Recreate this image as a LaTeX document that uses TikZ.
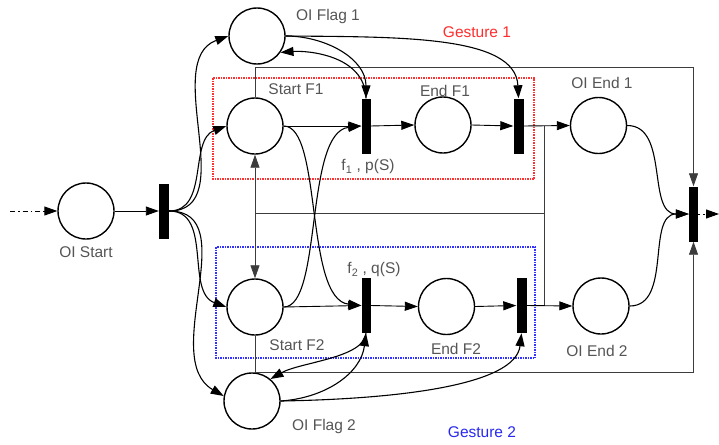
\documentclass[tikz,border=0pt]{standalone}
\usepackage{fontspec}
\setmainfont{Liberation Sans}
\usetikzlibrary{arrows.meta}
\definecolor{txt}{RGB}{85,85,85}
\definecolor{gred}{RGB}{255,45,45}
\definecolor{gblue}{RGB}{40,40,240}
\definecolor{gboxblue}{RGB}{50,50,255}
\definecolor{gboxred}{RGB}{255,50,50}
\definecolor{wirec}{RGB}{60,60,60}
\begin{document}
\begin{tikzpicture}[x=1pt,y=-1pt,
  place/.style={circle,draw=black,line width=1.4pt,fill=white,minimum size=56pt,inner sep=0pt},
  trans/.style={rectangle,fill=black,minimum width=9pt,minimum height=55pt,inner sep=0pt},
  lbl/.style={font=\fontsize{15.5}{18}\selectfont,text=txt,inner sep=0pt,anchor=base},
  tip/.style={-{Triangle[length=13pt,width=9pt]}},
  arc/.style={line width=1.1pt,draw=black,tip},
  flow/.style={line width=0.9pt,draw=black,tip},
  wire/.style={line width=0.8pt,draw=wirec},
  gbox/.style={line width=1.1pt,dash pattern=on 1.5pt off 1pt}
]
\useasboundingbox (0,0) rectangle (719,444);

% gesture boxes
\draw[gbox,gboxred] (213,78) rectangle (534,179);
\draw[gbox,gboxblue] (216,247) rectangle (535,358);

% places and transitions
\node[place] (start) at (86,211) {};
\node[trans,minimum width=10pt] (fork) at (164,211) {};
\node[place] (flag1) at (257,36) {};
\node[place] (sf1) at (255,126) {};
\node[trans] (t1) at (366,126) {};
\node[place] (ef1) at (443,125) {};
\node[trans,minimum width=10pt] (t2) at (518.5,126) {};
\node[place] (oe1) at (598.5,125.5) {};
\node[trans] (join) at (693.5,214) {};
\node[place] (sf2) at (255,307) {};
\node[trans] (t3) at (366,305.5) {};
\node[place] (ef2) at (446.5,306.5) {};
\node[trans,minimum width=10pt] (t4) at (521.5,305.5) {};
\node[place] (oe2) at (601,306) {};
\node[place] (flag2) at (252,401) {};

% helper coordinates
\coordinate (in) at (10,211);
\coordinate (out) at (719,214);
\coordinate (tc) at (693.5,67);
\coordinate (bc) at (693.5,372);
\coordinate (mh) at (255,213);
\coordinate (r1) at (544,126);
\coordinate (r2) at (544,306);
\coordinate (rm) at (544,213);

% thin wires
\draw[wire,tip] (sf1.north) |- (tc) -- (join.north);
\draw[wire,tip] (sf2.south) |- (bc) -- (join.south);
\draw[wire,{Triangle[length=13pt,width=9pt]}-{Triangle[length=13pt,width=9pt]}] (sf1.south) -- (sf2.north);
\draw[wire] (mh) -- (rm);
\draw[wire] (r1) -- (r2);

% dashed in / out
\draw[flow,dash pattern=on 5pt off 3pt on 1.5pt off 3pt] (in) -- (start.west);
\draw[flow,dash pattern=on 2pt off 3pt] (join.east) -- (out);

% straight flows
\draw[flow] (start.east) -- (fork.west);
\draw[flow] (sf1.east) -- (t1.west);
\draw[flow] (t1.east) -- (ef1.west);
\draw[flow] (ef1.east) -- (t2.west);
\draw[flow] (t2.east) -- (oe1.west);
\draw[flow] (sf2.east) -- (t3.west);
\draw[flow] (t3.east) -- (ef2.west);
\draw[flow] (ef2.east) -- (t4.west);
\draw[flow] (t4.east) -- (oe2.west);

% fork curves
\draw[arc] (fork.east) to[out=0,in=200] (flag1.west);
\draw[arc] (fork.east) to[out=0,in=200] (sf1.west);
\draw[arc] (fork.east) to[out=0,in=160] (sf2.west);
\draw[arc] (fork.east) to[out=0,in=150] (flag2.170);

% flag 1 curves
\draw[arc] (flag1.east) to[out=0,in=90] (t1.north);
\draw[arc] (flag1.east) .. controls +(115,1) and +(-3,-63) .. (t2.north);
\draw[arc] (t1.north) .. controls +(-1,-44) and +(25,-2) .. (flag1.-35);

% crossing curves
\draw[arc] (sf1.east) .. controls +(39,0) and +(-57,-6) .. (t3.west);
\draw[arc] (sf2.east) .. controls +(39,0) and +(-57,6) .. (t1.west);

% flag 2 curves
\draw[arc] (flag2.east) .. controls +(45,-3) and +(-5,40) .. (t3.south);
\draw[arc] (flag2.east) .. controls +(118,-2) and +(-6,52) .. (t4.south);
\draw[arc] (t3.south) .. controls +(-2,25) and +(30,-17) .. (flag2.50);

% join curves
\draw[arc] (oe1.east) to[out=0,in=180] (join.west);
\draw[arc] (oe2.east) to[out=0,in=180] (join.west);

% labels
\node[lbl] (lstart) at (86,257) {OI Start};
\node[lbl] (lflag1) at (328,20.5) {OI Flag 1};
\node[lbl,text=gred] (lg1) at (477,37.5) {Gesture 1};
\node[lbl] (lsf1) at (296,94) {Start F1};
\node[lbl] (lef1) at (445,96.5) {End F1};
\node[lbl] (lt1) at (368,170.5) {f\textsubscript{1} , p(S)};
\node[lbl] (loe1) at (602,88.5) {OI End 1};
\node[lbl] (lt3) at (374,273.5) {f\textsubscript{2} , q(S)};
\node[lbl] (lsf2) at (297,350.5) {Start F2};
\node[lbl] (lef2) at (456,354.5) {End F2};
\node[lbl] (loe2) at (597,356.5) {OI End 2};
\node[lbl] (lflag2) at (324,430.5) {OI Flag 2};
\node[lbl,text=gblue] (lg2) at (482,437.5) {Gesture 2};
\end{tikzpicture}
\end{document}
